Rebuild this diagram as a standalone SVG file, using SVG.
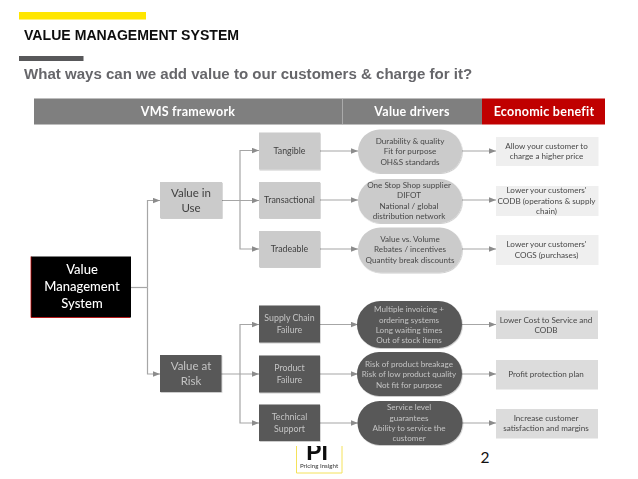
<svg xmlns="http://www.w3.org/2000/svg" width="638" height="479" viewBox="0 0 638 479">
<style>
text{font-family:"Lato","Liberation Sans",sans-serif;text-anchor:middle}
.t{font-family:"Liberation Sans",Arial,sans-serif;font-weight:700;text-anchor:start}
.h{font-size:12.500px;font-weight:700;fill:#fff;letter-spacing:0.25px}
.lg{fill:#cbcbcb}
.dk{fill:#595959}
.s{filter:url(#sh)}
.c{fill:none;stroke:#a6a6a6;stroke-width:1.2;marker-end:url(#a)}
.n{fill:none;stroke:#a6a6a6;stroke-width:1.2}
.m{font-size:11.500px;fill:#404040}
.ml{font-size:11.500px;fill:#c4c4c4}
.x{font-size:8.100px;fill:#484848}
.xl{font-size:8.100px;fill:#c4c4c4}
.y{font-size:8.800px;fill:#404040}
.yl{font-size:8.800px;fill:#c4c4c4}
.b{fill:#efefef}
.bd{fill:#dcdcdc}
</style>
<defs>
<marker id="a" markerUnits="userSpaceOnUse" markerWidth="7" markerHeight="6" refX="7" refY="3" orient="auto"><path d="M0 0.3L7 3L0 5.7z" fill="#8c8c8c"/></marker>
<filter id="sh" x="-10%" y="-10%" width="120%" height="125%"><feDropShadow dx="0.6" dy="0.8" stdDeviation="0.7" flood-color="#000" flood-opacity="0.25"/></filter>
<filter id="bl" x="-2%" y="-2%" width="104%" height="104%"><feGaussianBlur stdDeviation="0.35"/></filter>
<clipPath id="lc"><rect x="290" y="446" width="60" height="33"/></clipPath>
</defs>
<rect width="638" height="479" fill="#fff"/>
<g id="title" filter="url(#bl)">
<rect x="19" y="12" width="127" height="7.500" fill="#ffe600"/>
<text class="t" x="24" y="40" font-size="14.100" fill="#111">VALUE MANAGEMENT SYSTEM</text>
<rect x="19" y="56" width="64.500" height="5" fill="#58585a"/>
<text class="t" x="24" y="79" font-size="15.050" fill="#66666a">What ways can we add value to our customers &amp; charge for it?</text>
</g>
<g id="logo" filter="url(#bl)">
<path d="M296.500 446V473H342V446" fill="#fff" stroke="#f5e25a" stroke-width="1"/>
<g clip-path="url(#lc)"><text x="317" y="459.500" font-size="23" style="font-family:'Liberation Sans',sans-serif;font-weight:700" fill="#111">PI</text></g>
<text x="319" y="468" font-size="6.200" fill="#333">Pricing Insight</text>
</g>
<g id="header" filter="url(#bl)">
<rect x="34" y="98.500" width="448" height="26" fill="#7f7f7f"/>
<line x1="342.500" y1="98.500" x2="342.500" y2="124.500" stroke="#b5b5b5" stroke-width="0.800"/>
<rect x="482" y="98.500" width="123" height="26" fill="#c00000"/>
<text class="h" x="188" y="116">VMS framework</text>
<text class="h" x="412" y="116">Value drivers</text>
<text class="h" x="544" y="116">Economic benefit</text>
</g>
<g id="connectors" filter="url(#bl)">
<path class="n" d="M131 287.500H147.500"/>
<path class="c" d="M147.500 287.500V200.500H160"/>
<path class="c" d="M147.500 287.500V374H160"/>
<path class="c" d="M222 200.500H259"/>
<path class="c" d="M240 200.500V150.500H259"/>
<path class="c" d="M240 200.500V249H259"/>
<path class="c" d="M221 374H259"/>
<path class="c" d="M240 374V324.500H259"/>
<path class="c" d="M240 374V423H259"/>
<path class="c" d="M320 151H358"/>
<path class="c" d="M320 200H358"/>
<path class="c" d="M320 249H358"/>
<path class="c" d="M320 324.500H358"/>
<path class="c" d="M320 374H358"/>
<path class="c" d="M320 423H358"/>
<path class="c" d="M462 151H496"/>
<path class="c" d="M462 200H496"/>
<path class="c" d="M462 249H496"/>
<path class="c" d="M462 324.500H496"/>
<path class="c" d="M462 374H496"/>
<path class="c" d="M462 423H496"/>
</g>
<g filter="url(#bl)">
<g id="n-vms"><rect x="31" y="256.500" width="100" height="61" fill="#000"/><path d="M31 256.500V317.500H130" fill="none" stroke="#c00000" stroke-width="0.800"/>
<text x="82" y="274" font-size="13" font-weight="500" fill="#fff">Value</text><text x="82" y="291" font-size="13" font-weight="500" fill="#fff">Management</text><text x="82" y="308" font-size="13" font-weight="500" fill="#fff">System</text></g>

<g id="n-use"><rect class="lg s" x="160" y="182" width="62" height="36"/><text class="m" x="191" y="197">Value in</text><text class="m" x="191" y="212">Use</text></g>
<g id="n-risk"><rect class="dk s" x="160" y="355" width="61.500" height="37"/><text class="ml" x="191" y="370">Value at</text><text class="ml" x="191" y="385">Risk</text></g>

<g id="n-tangible"><rect class="lg s" x="259" y="132.500" width="61" height="37"/><text class="y" x="289.500" y="154">Tangible</text></g>
<g id="n-transactional"><rect class="lg s" x="259" y="182" width="61" height="36"/><text class="y" x="289.500" y="203">Transactional</text></g>
<g id="n-tradeable"><rect class="lg s" x="259" y="231" width="61" height="36"/><text class="y" x="289.500" y="252">Tradeable</text></g>
<g id="n-supply"><rect class="dk s" x="259" y="305.500" width="61" height="37"/><text class="yl" x="289.500" y="321">Supply Chain</text><text class="yl" x="289.500" y="333">Failure</text></g>
<g id="n-product"><rect class="dk s" x="259" y="355.500" width="61" height="37"/><text class="yl" x="289.500" y="371">Product</text><text class="yl" x="289.500" y="383">Failure</text></g>
<g id="n-technical"><rect class="dk s" x="259" y="404.500" width="61" height="36.500"/><text class="yl" x="289.500" y="420">Technical</text><text class="yl" x="289.500" y="432">Support</text></g>

<g id="p-1"><rect class="lg s" x="358" y="129.500" width="104" height="43.500" rx="21.700"/><text class="x" x="410" y="143.500">Durability &amp; quality</text><text class="x" x="410" y="154">Fit for purpose</text><text class="x" x="410" y="164.500">OH&amp;S standards</text></g>
<g id="p-2"><rect class="lg s" x="358" y="179" width="104" height="44" rx="22"/><text class="x" x="409" y="187.500">One Stop Shop supplier</text><text class="x" x="409" y="198">DIFOT</text><text class="x" x="409" y="208.500">National / global</text><text class="x" x="409" y="218.500">distribution network</text></g>
<g id="p-3"><rect class="lg s" x="358" y="227.500" width="104" height="45" rx="22.500"/><text class="x" x="410" y="241.500">Value vs. Volume</text><text class="x" x="410" y="252">Rebates / incentives</text><text class="x" x="410" y="262.500">Quantity break discounts</text></g>
<g id="p-4"><rect class="dk s" x="357" y="301" width="105" height="47" rx="23.500"/><text class="xl" x="409" y="312">Multiple invoicing +</text><text class="xl" x="409" y="322.500">ordering systems</text><text class="xl" x="409" y="332.500">Long waiting times</text><text class="xl" x="409" y="343">Out of stock items</text></g>
<g id="p-5"><rect class="dk s" x="357" y="352" width="105" height="44" rx="22"/><text class="xl" x="409" y="366.500">Risk of product breakage</text><text class="xl" x="409" y="377">Risk of low product quality</text><text class="xl" x="409" y="387.500">Not fit for purpose</text></g>
<g id="p-6"><rect class="dk s" x="357.500" y="401" width="105" height="44" rx="22"/><text class="xl" x="409" y="410">Service level</text><text class="xl" x="409" y="420.500">guarantees</text><text class="xl" x="409" y="431">Ability to service the</text><text class="xl" x="409" y="441">customer</text></g>

<g id="b-1"><rect class="b" x="496" y="137" width="102.500" height="29"/><text class="x" x="546.500" y="148.500">Allow your customer to</text><text class="x" x="546.500" y="159">charge a higher price</text></g>
<g id="b-2"><rect class="b" x="496" y="186" width="102.500" height="30"/><text class="x" x="546.500" y="193">Lower your customers'</text><text class="x" x="546.500" y="203.500">CODB (operations &amp; supply</text><text class="x" x="546.500" y="213.500">chain)</text></g>
<g id="b-3"><rect class="b" x="496" y="235" width="102.500" height="30"/><text class="x" x="546.500" y="247">Lower your customers'</text><text class="x" x="546.500" y="258">COGS (purchases)</text></g>
<g id="b-4"><rect class="bd" x="496" y="310.500" width="102" height="28.500"/><text class="x" x="546" y="322.500">Lower Cost to Service and</text><text class="x" x="546" y="333">CODB</text></g>
<g id="b-5"><rect class="bd" x="496" y="360" width="102" height="29.500"/><text class="x" x="546" y="377">Profit protection plan</text></g>
<g id="b-6"><rect class="bd" x="496" y="409" width="102" height="29.500"/><text class="x" x="546" y="420.500">Increase customer</text><text class="x" x="546" y="431">satisfaction and margins</text></g>
</g>
<text id="page" x="485" y="463" font-size="15.500" fill="#111">2</text>
</svg>
